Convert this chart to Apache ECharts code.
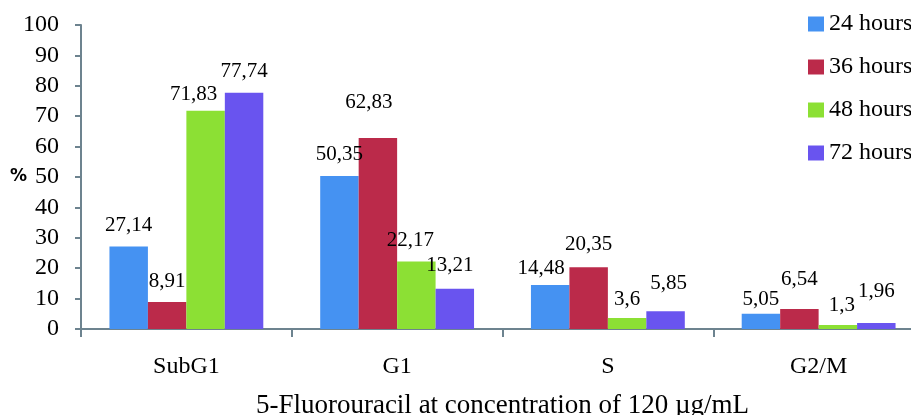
<!DOCTYPE html>
<html>
<head>
<meta charset="utf-8">
<script src="https://cdn.jsdelivr.net/npm/echarts@6/dist/echarts.min.js"></script>
<style>
  html, body { margin: 0; padding: 0; background: #fff; }
  #chart { width: 911px; height: 415px; }
</style>
</head>
<body>
<div id="chart"></div>
<script>
// Cell-cycle phase distribution after 5-FU treatment
const categories = ['SubG1', 'G1', 'S', 'G2/M'];
const seriesNames = ['24 hours', '36 hours', '48 hours', '72 hours'];
const values24 = [27.14, 50.35, 14.48, 5.05];
const values36 = [8.91, 62.83, 20.35, 6.54];
const values48 = [71.83, 22.17, 3.6, 1.3];
const values72 = [77.74, 13.21, 5.85, 1.96];
const yTicks = [0, 10, 20, 30, 40, 50, 60, 70, 80, 90, 100];

const colors = ['#4592f2', '#bb2a4a', '#8ce034', '#6954ef'];
// per-bar label nudges [dx, dy], one row per series (styling only)
const labelNudge = [
  [[0, 0], [0, 0], [-9, 5], [0, 7]],
  [[0, 1], [-9, -14], [0, -1], [0, -8]],
  [[-12, 5], [-6, 0], [0, 3], [4, 2]],
  [[0, 0], [-5, -2], [3, -6], [0, -10]]
];

const serif = '"Liberation Serif", "Times New Roman", serif';
const allValues = [values24, values36, values48, values72];

const fmt = v => String(v).replace('.', ',');

const series = allValues.map((vals, si) => ({
  name: seriesNames[si],
  type: 'bar',
  barGap: '0%',
  barCategoryGap: '27%',
  itemStyle: { color: colors[si] },
  data: vals.map((v, ci) => ({
    value: v,
    label: { offset: labelNudge[si][ci] }
  })),
  label: {
    show: true,
    position: 'top',
    distance: 11,
    fontFamily: serif,
    fontSize: 21,
    color: '#000',
    formatter: p => fmt(p.value)
  }
}));

const chart = echarts.init(document.getElementById('chart'), null, { renderer: 'canvas' });
chart.setOption({
  animation: false,
  color: colors,
  grid: { left: 81, top: 25, bottom: 86, width: 843, containLabel: false, outerBoundsMode: 'none' },
  legend: {
    orient: 'vertical',
    left: 803,
    top: 7,
    itemWidth: 16,
    itemHeight: 15,
    itemGap: 19,
    icon: 'rect',
    textStyle: { fontFamily: serif, fontSize: 24, color: '#000' },
    data: seriesNames
  },
  xAxis: {
    type: 'category',
    data: categories,
    name: '5-Fluorouracil at concentration of 120 µg/mL',
    nameLocation: 'middle',
    nameGap: 63,
    nameMoveOverlap: false,
    nameTextStyle: { fontFamily: serif, fontSize: 27, color: '#000' },
    axisLine: { lineStyle: { color: '#6d838f', width: 2 } },
    axisTick: { show: true, length: 8, lineStyle: { color: '#6d838f', width: 2 } },
    axisLabel: { fontFamily: serif, fontSize: 24, color: '#000', margin: 26 }
  },
  yAxis: {
    type: 'value',
    min: yTicks[0],
    max: yTicks[yTicks.length - 1],
    interval: 10,
    name: '%',
    nameLocation: 'middle',
    nameGap: 54,
    nameRotate: 0,
    nameMoveOverlap: false,
    nameTextStyle: { fontFamily: '"DejaVu Sans", sans-serif', fontSize: 17, fontWeight: 'bold', color: '#000' },
    axisLine: { show: true, lineStyle: { color: '#6d838f', width: 2 } },
    axisTick: { show: true, length: 6, lineStyle: { color: '#6d838f', width: 2 } },
    axisLabel: { fontFamily: serif, fontSize: 24, color: '#000', margin: 22 },
    splitLine: { show: false }
  },
  series: series
});
</script>
</body>
</html>
